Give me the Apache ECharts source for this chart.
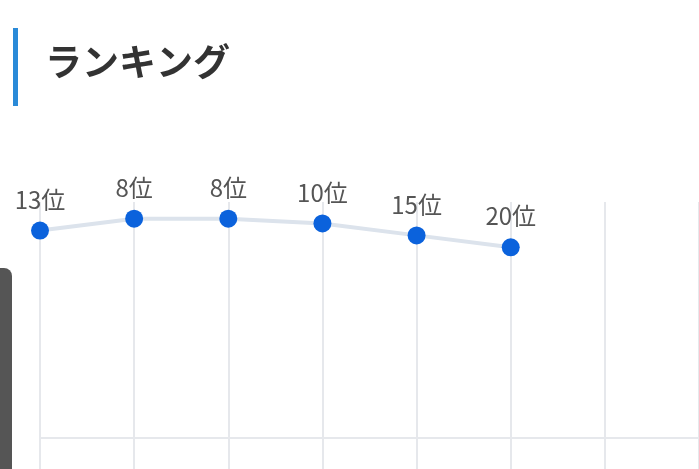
<!DOCTYPE html>
<html>
<head>
<meta charset="utf-8">
<script src="https://cdn.jsdelivr.net/npm/echarts@6/dist/echarts.min.js"></script>
<style>
  html, body { margin: 0; padding: 0; background: #fff; }
  #chart { width: 699px; height: 469px; }
</style>
</head>
<body>
<div id="chart"></div>
<script>
const titleText = 'ランキング';
const categories = ['1', '2', '3', '4', '5', '6', '7', '8'];
const ranks = [13, 8, 8, 10, 15, 20];
const baseRank = 100;

const chart = echarts.init(document.getElementById('chart'));
chart.setOption({
  animation: false,
  graphic: [
    { type: 'rect', shape: { x: 13, y: 28, width: 5, height: 78 }, style: { fill: '#2a8ad8' } },
    {
      type: 'text', left: 45, top: 43,
      style: { text: titleText, fontSize: 37, fontWeight: 'bold', fill: '#333', fontFamily: 'Noto Sans CJK JP' }
    },
    { type: 'rect', shape: { x: -8, y: 268, width: 20, height: 220, r: 8 }, style: { fill: '#555' } }
  ],
  grid: { left: 40, top: 202, width: 667, bottom: 0 },
  xAxis: {
    type: 'category',
    boundaryGap: false,
    data: categories,
    axisLine: { show: false },
    axisTick: { show: false },
    axisLabel: { show: false },
    splitLine: { show: true, lineStyle: { color: '#e6e8ec', width: 2 } }
  },
  yAxis: {
    type: 'value',
    inverse: true,
    min: 1,
    max: 113,
    show: false,
    splitLine: { show: false }
  },
  series: [{
    type: 'line',
    data: ranks,
    symbol: 'circle',
    symbolSize: 18,
    itemStyle: { color: '#0b62dc' },
    lineStyle: { color: '#dce3ec', width: 4 },
    label: {
      show: true,
      position: 'top',
      distance: 10,
      formatter: p => p.value + '位',
      fontSize: 24,
      color: '#555',
      fontFamily: 'Noto Sans CJK JP'
    },
    markLine: {
      silent: true,
      symbol: 'none',
      label: { show: false },
      lineStyle: { color: '#e6e8ec', width: 2, type: 'solid' },
      data: [{ yAxis: baseRank }]
    }
  }]
});
</script>
</body>
</html>
